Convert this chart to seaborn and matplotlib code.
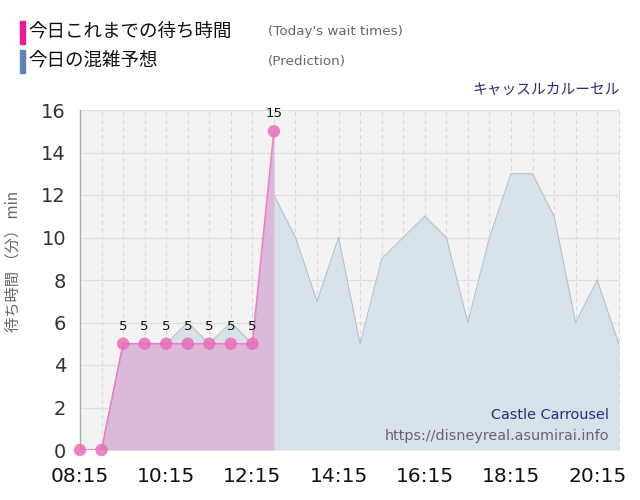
import matplotlib
matplotlib.use('Agg')
import matplotlib.pyplot as plt
import seaborn as sns
import pandas as pd
from matplotlib.patches import Rectangle

# data
actual_times = ["08:15", "08:45", "09:15", "09:45", "10:15", "10:45",
                "11:15", "11:45", "12:15", "12:45"]
actual_wait = [0, 0, 5, 5, 5, 5, 5, 5, 5, 15]

pred_times = ["08:15", "08:45", "09:15", "09:45", "10:15", "10:45", "11:15",
              "11:45", "12:15", "12:45", "13:15", "13:45", "14:15", "14:45",
              "15:15", "15:45", "16:15", "16:45", "17:15", "17:45", "18:15",
              "18:45", "19:15", "19:45", "20:15", "20:45"]
pred_wait = [0, 0, 5, 5, 5, 6, 5, 6, 5, 12, 10, 7, 10, 5, 9, 10, 11, 10, 6,
             10, 13, 13, 11, 6, 8, 5]

tick_labels = ["08:15", "10:15", "12:15", "14:15", "16:15", "18:15", "20:15"]


def to_hours(t):
    h, m = t.split(":")
    return int(h) + int(m) / 60


actual = pd.DataFrame({"t": [to_hours(t) for t in actual_times], "wait": actual_wait})
pred = pd.DataFrame({"t": [to_hours(t) for t in pred_times], "wait": pred_wait})

sns.set_style("white")
jp = ["Noto Sans CJK JP", "DejaVu Sans"]

fig = plt.figure(figsize=(6.4, 5), dpi=100)
ax = fig.add_axes([0.125, 0.1, 0.844, 0.68])
ax.set_facecolor("#f3f3f3")

# prediction area
ax.fill_between(pred["t"], pred["wait"], 0, color="#d7e1e9", zorder=2, lw=0)
sns.lineplot(data=pred, x="t", y="wait", ax=ax, color="#b4c2cd", lw=0.8, zorder=3)

# today's actual wait times
ax.fill_between(actual["t"], actual["wait"], 0, color="#dbb9d8", zorder=4, lw=0)
sns.lineplot(data=actual, x="t", y="wait", ax=ax, color="#f37cc6", lw=1.2, zorder=5)
sns.scatterplot(data=actual, x="t", y="wait", ax=ax, color="#ea6cba", s=80,
                alpha=0.85, edgecolor="none", zorder=6, clip_on=False)
for t, w in zip(actual["t"], actual["wait"]):
    if w > 0:
        ax.annotate(str(w), (t, w), xytext=(0, 8), textcoords="offset points",
                    ha="center", va="bottom", fontsize=9.5, color="#111111", zorder=7)

ax.set_xlim(to_hours("08:15"), to_hours("20:47"))
ax.set_ylim(0, 16)
ax.set_yticks(range(0, 17, 2))
ax.set_xticks([to_hours(t) for t in tick_labels])
ax.set_xticklabels(tick_labels)
ax.set_xticks([to_hours(t) for t in pred_times], minor=True)
ax.tick_params(axis="x", which="major", length=10, color="#cccccc", labelsize=14.5,
               labelcolor="#111111", pad=2)
ax.tick_params(axis="x", which="minor", length=0)
ax.tick_params(axis="y", length=8, color="#dddddd", labelsize=14, labelcolor="#333333", pad=2)

ax.grid(axis="y", color="#dedede", lw=0.9, zorder=1)
ax.grid(axis="x", which="both", color="#d8d8d8", lw=0.8, ls=(0, (4, 3)), zorder=1)
ax.set_axisbelow(True)
for side in ["top", "right", "bottom"]:
    ax.spines[side].set_visible(False)
ax.spines["left"].set_color("#aaaaaa")
ax.spines["left"].set_linewidth(1)

ax.set_xlabel("")
ax.set_ylabel("待ち時間 （分） min", family=jp, fontsize=11, color="#666666")
ax.yaxis.set_label_coords(-0.108, 0.555)

ax.text(0.98, 0.104, "Castle Carrousel", transform=ax.transAxes, ha="right",
        va="center", fontsize=10.4, color="#2e2e78", zorder=8)
ax.text(0.98, 0.042, "https://disneyreal.asumirai.info", transform=ax.transAxes,
        ha="right", va="center", fontsize=10.4, color="#666666", zorder=8)

# legend on top
fig.patches.append(Rectangle((20 / 640, 1 - 44 / 500), 5 / 640, 23 / 500,
                             transform=fig.transFigure, color="#f0189a"))
fig.patches.append(Rectangle((20 / 640, 1 - 73 / 500), 5 / 640, 23 / 500,
                             transform=fig.transFigure, color="#5a86b0"))
fig.text(28 / 640, 1 - 32 / 500, "今日これまでの待ち時間", family=jp, fontsize=13.3,
         color="#111111", va="center")
fig.text(28 / 640, 1 - 61 / 500, "今日の混雑予想", family=jp, fontsize=13.3,
         color="#111111", va="center")
fig.text(268 / 640, 1 - 32 / 500, "(Today's wait times)", fontsize=9.7,
         color="#666666", va="center")
fig.text(268 / 640, 1 - 61 / 500, "(Prediction)", fontsize=9.7,
         color="#666666", va="center")
fig.text(620 / 640, 1 - 90 / 500, "キャッスルカルーセル", family=jp, fontsize=10.6,
         color="#2e2e78", ha="right", va="center")

fig.savefig("out.png", dpi=100, facecolor="white")
plt.close(fig)
